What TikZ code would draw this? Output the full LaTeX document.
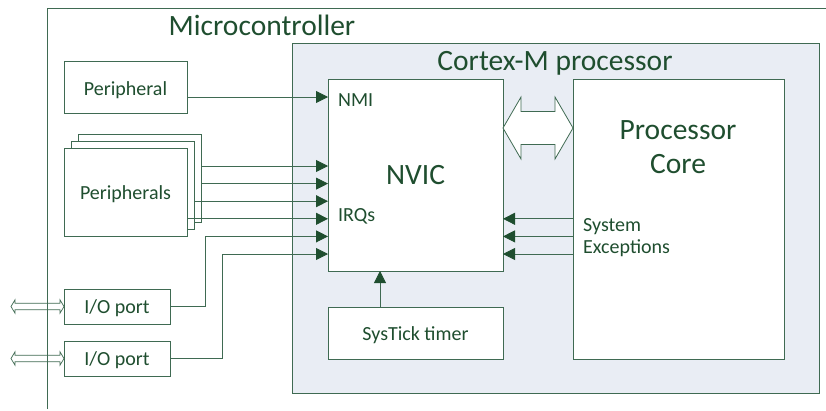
\documentclass[tikz,border=0pt]{standalone}
\usepackage{fontspec}
\setmainfont{Carlito}
\usetikzlibrary{arrows.meta,calc}
\definecolor{txt}{HTML}{1F4E2F}
\definecolor{ln}{HTML}{3F6A52}
\definecolor{cfill}{HTML}{E9EDF4}
\begin{document}
\begin{tikzpicture}[x=1pt,y=-1pt,
 box/.style={draw=ln,line width=0.8pt,fill=white,inner sep=0pt,outer sep=0pt},
 lbl/.style={text=txt,inner sep=0pt,anchor=base,font=\fontsize{20}{24}\selectfont},
 lblw/.style={lbl,anchor=base west},
 big/.style={text=txt,inner sep=0pt,anchor=base,font=\fontsize{29.5}{34}\selectfont},
 arr/.style={draw=ln,line width=0.8pt,-{Triangle[length=12pt,width=12pt,color=txt]}},
 wire/.style={draw=ln,line width=0.8pt}]
\useasboundingbox (0,0) rectangle (826,410);
% microcontroller outline
\coordinate (mcbl) at (47,409);
\coordinate (mctl) at (47,8);
\coordinate (mctr) at (826,8);
\draw[wire] (mcbl) -- (mctl) -- (mctr);
\node[big] (mc) at (262,35) {Microcontroller};
% cortex
\node[box,fill=cfill,minimum width=527pt,minimum height=350pt] (cortex) at (555.5,218) {};
\node[big] (cmlbl) at (555,70) {Cortex-M processor};
\node[box,minimum width=175pt,minimum height=192pt] (nvic) at (415.5,175) {};
\node[big] (nviclbl) at (415.5,184) {NVIC};
\node[box,minimum width=211pt,minimum height=280pt] (core) at (678.5,219) {};
\node[big] (corel1) at (678,139) {Processor};
\node[big] (corel2) at (678,173) {Core};
\node[box,minimum width=175pt,minimum height=52pt] (systick) at (415.5,333) {};
\node[lbl] (stlbl) at (415.5,340) {SysTick timer};
\node[lblw] (nmilbl) at (338,106) {NMI};
\node[lblw] (irqlbl) at (338,221) {IRQs};
\node[lblw] (sys1) at (583,231) {System};
\node[lblw] (sys2) at (583,253) {Exceptions};
% peripherals
\node[box,minimum width=123pt,minimum height=52pt] (periph) at (125.5,87) {};
\node[lbl] (periphlbl) at (125.5,95) {Peripheral};
\node[box,minimum width=123pt,minimum height=88pt] (p3) at (139.5,178) {};
\node[box,minimum width=123pt,minimum height=88pt] (p2) at (132.5,185) {};
\node[box,minimum width=123pt,minimum height=88pt] (p1) at (125.5,192) {};
\node[lbl] (p1lbl) at (125.5,199) {Peripherals};
\node[box,minimum width=106pt,minimum height=35pt] (io1) at (117,306.5) {};
\node[lbl] (io1lbl) at (117,313) {I/O port};
\node[box,minimum width=106pt,minimum height=35pt] (io2) at (117,358.5) {};
\node[lbl] (io2lbl) at (117,365) {I/O port};
% coordinates on NVIC
\coordinate (nmi) at ($(nvic.north west)+(0,18)$);
\coordinate (q1) at ($(nvic.north west)+(0,87)$);
\coordinate (q2) at ($(nvic.north west)+(0,104.6)$);
\coordinate (q3) at ($(nvic.north west)+(0,122.2)$);
\coordinate (q4) at ($(nvic.north west)+(0,139.8)$);
\coordinate (q5) at ($(nvic.north west)+(0,157.4)$);
\coordinate (q6) at ($(nvic.north west)+(0,175)$);
\coordinate (e1) at ($(nvic.north east)+(0,139.8)$);
\coordinate (e2) at ($(nvic.north east)+(0,157.4)$);
\coordinate (e3) at ($(nvic.north east)+(0,175)$);
\coordinate (j5) at (205,0);
\coordinate (j6) at (222,0);
\coordinate (st) at (380,0);
% arrows
\draw[arr] (periph.east |- nmi) -- (nmi);
\draw[arr] (p3.east |- q1) -- (q1);
\draw[arr] (p3.east |- q2) -- (q2);
\draw[arr] (p2.east |- q3) -- (q3);
\draw[arr] (p1.east |- q4) -- (q4);
\draw[arr] (io1.east) -- (io1.east -| j5) -- (j5 |- q5) -- (q5);
\draw[arr] (io2.east) -- (io2.east -| j6) -- (j6 |- q6) -- (q6);
\draw[arr] (core.west |- e1) -- (e1);
\draw[arr] (core.west |- e2) -- (e2);
\draw[arr] (core.west |- e3) -- (e3);
\draw[arr] (systick.north -| st) -- (nvic.south -| st);
% bus double arrow
\draw[wire,fill=white] (503,128) -- (521,97) -- (521,111.5) -- (555,111.5) -- (555,97) -- (573,128)
  -- (555,159) -- (555,144.5) -- (521,144.5) -- (521,159) -- cycle;
% I/O double arrows
\draw[wire,line width=0.7pt] (io1.west) -- ++(-4,-6.7) -- ++(0,3.4) -- ++(-45,0) -- ++(0,-3.4) -- ++(-4,6.7)
  -- ++(4,6.7) -- ++(0,-3.4) -- ++(45,0) -- ++(0,3.4) -- cycle;
\draw[wire,line width=0.7pt] (io2.west) -- ++(-4,-6.7) -- ++(0,3.4) -- ++(-45,0) -- ++(0,-3.4) -- ++(-4,6.7)
  -- ++(4,6.7) -- ++(0,-3.4) -- ++(45,0) -- ++(0,3.4) -- cycle;
\end{tikzpicture}
\end{document}
